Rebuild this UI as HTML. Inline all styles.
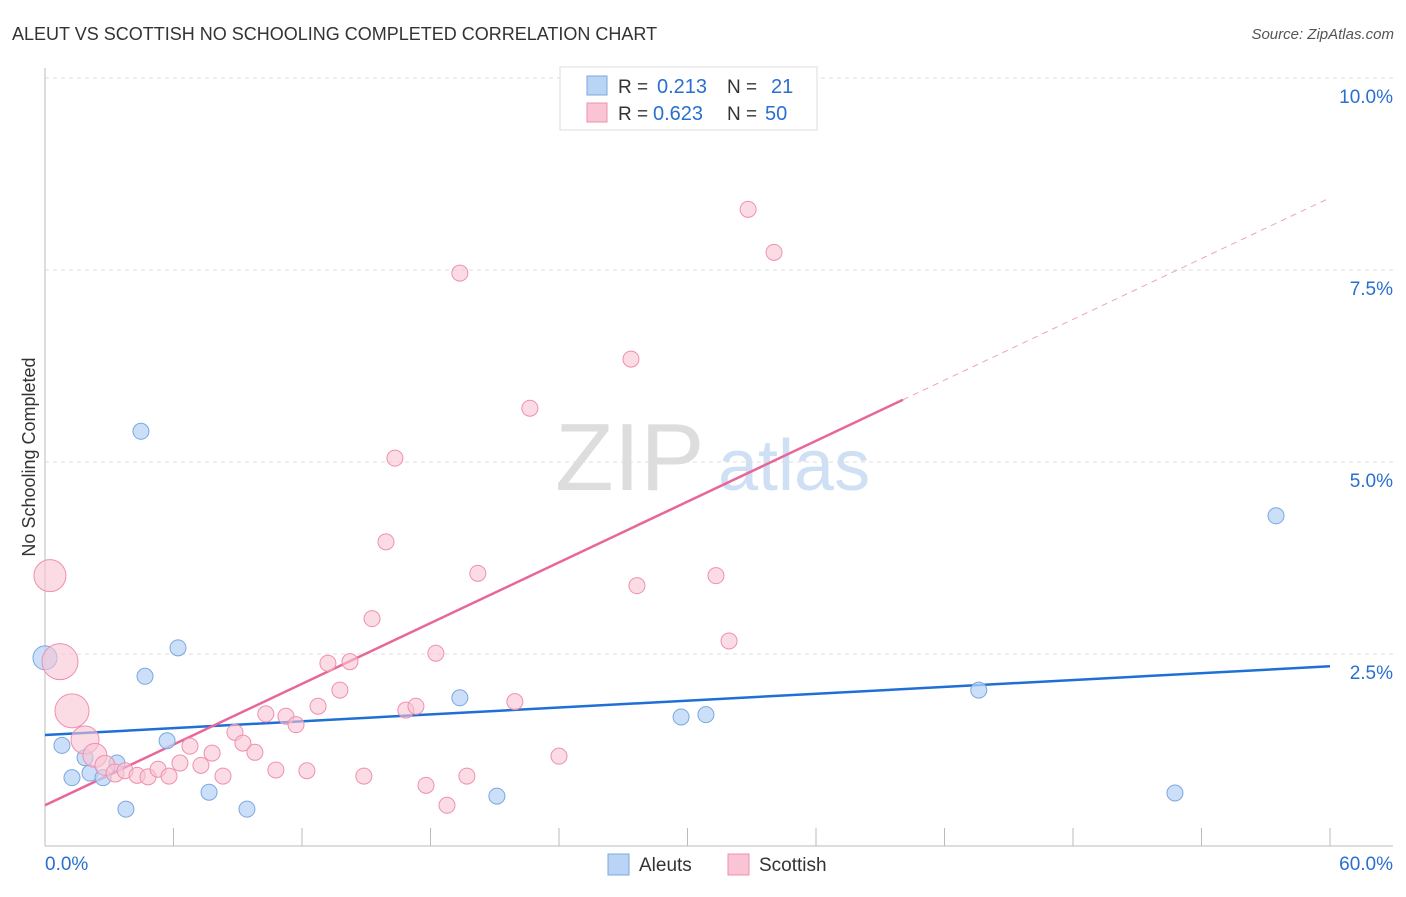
<!DOCTYPE html>
<html><head><meta charset="utf-8"><style>
body{margin:0;background:#fff;font-family:"Liberation Sans",sans-serif;}
svg text{font-family:"Liberation Sans",sans-serif;}
</style></head><body>
<svg width="1406" height="892" xmlns="http://www.w3.org/2000/svg">
<text x="12" y="40" font-size="18" fill="#333">ALEUT VS SCOTTISH NO SCHOOLING COMPLETED CORRELATION CHART</text>
<text x="1394" y="39" font-size="15" fill="#555" font-style="italic" text-anchor="end">Source: ZipAtlas.com</text>
<text x="35" y="457" font-size="18" fill="#333" transform="rotate(-90 35 457)" text-anchor="middle">No Schooling Completed</text>
<g><text x="555" y="490" font-size="96" fill="#ddd" font-family="Liberation Serif">ZIP</text><text x="718" y="490" font-size="72" fill="#cfe0f5">atlas</text></g>
<g id="grid"></g><g id="axes"></g><g id="lines"></g><g id="pts"></g>
<g>
<rect x="560" y="67" width="257" height="63" fill="#fff" stroke="#ddd"/>
<rect x="587" y="76" width="20" height="19" fill="#b9d4f5" stroke="#7aa8e0"/>
<rect x="587" y="103" width="20" height="19" fill="#f9c4d4" stroke="#f08fb0"/>
<text x="618" y="93" font-size="19" fill="#333">R =</text>
<text x="657" y="93" font-size="20" fill="#2a6fd0">0.213</text>
<text x="727" y="93" font-size="19" fill="#333">N =</text>
<text x="771" y="93" font-size="20" fill="#2a6fd0">21</text>
<text x="618" y="120" font-size="19" fill="#333">R =</text>
<text x="653" y="120" font-size="20" fill="#2a6fd0">0.623</text>
<text x="727" y="120" font-size="19" fill="#333">N =</text>
<text x="765" y="120" font-size="20" fill="#2a6fd0">50</text>
</g>
<g>
<rect x="608" y="854" width="21" height="21" fill="#b9d4f5" stroke="#7aa8e0"/>
<text x="639" y="871" font-size="19" fill="#333">Aleuts</text>
<rect x="728" y="854" width="21" height="21" fill="#f9c4d4" stroke="#f08fb0"/>
<text x="759" y="871" font-size="19" fill="#333">Scottish</text>
</g>
</svg>
<script>
const yTicks=[2.5,5,7.5,10];
const yTickLabels=["2.5%","5.0%","7.5%","10.0%"];
const aleutX=[0,4.48,6.21,4.67,0.79,1.26,1.87,2.1,2.71,3.36,3.78,5.7,7.66,9.43,19.37,21.1,29.7,30.86,43.6,57.48,52.76];
const aleutY=[2.45,5.40,2.58,2.21,1.31,0.89,1.15,0.95,0.89,1.08,0.48,1.37,0.70,0.48,1.93,0.65,1.68,1.71,2.03,4.30,0.69];
const scotX=[0.23,0.7,1.26,1.87,2.33,2.8,3.27,3.74,4.3,4.81,5.28,5.79,6.3,6.77,7.28,7.8,8.31,8.87,9.24,9.8,10.31,10.78,11.25,11.72,12.23,12.75,13.21,13.77,14.24,14.89,15.27,15.92,16.34,16.85,17.32,17.79,18.25,18.77,19.37,19.7,20.21,21.94,22.64,24.0,27.36,27.64,31.33,31.94,32.83,34.04];
const scotY=[3.52,2.40,1.76,1.38,1.18,1.05,0.95,0.98,0.92,0.90,1.00,0.91,1.08,1.30,1.05,1.21,0.91,1.48,1.34,1.22,1.72,0.99,1.69,1.58,0.98,1.82,2.38,2.03,2.40,0.91,2.96,3.96,5.05,1.77,1.82,0.79,2.51,0.53,7.46,0.91,3.55,1.88,5.70,1.17,6.34,3.39,3.52,2.67,8.29,7.73];
const scotR=[16,18,17,14,12,10,9,8,8,8,8,8,8,8,8,8,8,8,8,8,8,8,8,8,8,8,8,8,8,8,8,8,8,8,8,8,8,8,8,8,8,8,8,8,8,8,8,8,8,8];
const blueLine=[1.445,2.34];
const pinkLine=[0.53,5.81,40.06,8.44];
const X=v=>45+v*(1285/60), Y=v=>846-v*76.8;
const NS="http://www.w3.org/2000/svg";
function mk(p,t,a){const e=document.createElementNS(NS,t);for(const k in a)e.setAttribute(k,a[k]);document.getElementById(p).appendChild(e);return e;}
yTicks.forEach((t,i)=>{
 const l=mk('grid','line',{x1:45,x2:1393,y1:Y(t),y2:Y(t),stroke:'#ddd','stroke-dasharray':'4 4'});
 
 
 const tx=mk('grid','text',{x:1393,y:Y(t)+25,'font-size':19,fill:'#2a6fd0','text-anchor':'end'});
 tx.textContent=yTickLabels[i];
 
 
});
mk('axes','line',{x1:45,x2:45,y1:68,y2:846,stroke:'#bbb'});
mk('axes','line',{x1:45,x2:1393,y1:846,y2:846,stroke:'#bbb'});
for(let i=0;i<=10;i++){const t=mk('axes','line',{x1:X(i*6),x2:X(i*6),y1:828,y2:846,stroke:'#bbb'});}
let a=mk('axes','text',{x:45,y:870,'font-size':19,fill:'#2a6fd0'});a.textContent='0.0%';


a=mk('axes','text',{x:1393,y:870,'font-size':19,fill:'#2a6fd0','text-anchor':'end'});a.textContent='60.0%';


aleutX.forEach((v,i)=>{const c=mk('pts','circle',{cx:X(v),cy:Y(aleutY[i]),r:i==0?12:8,fill:'#b9d4f5','fill-opacity':0.75,stroke:'#7aa8e0'});
 
 });
scotX.forEach((v,i)=>{const c=mk('pts','circle',{cx:X(v),cy:Y(scotY[i]),r:scotR[i],fill:'#f9c4d4','fill-opacity':0.6,stroke:'#f08fb0'});
 
 });
let ln=mk('lines','line',{x1:X(0),y1:Y(blueLine[0]),x2:X(60),y2:Y(blueLine[1]),stroke:'#1f6fd6','stroke-width':2.5});


ln=mk('lines','line',{x1:X(0),y1:Y(pinkLine[0]),x2:X(pinkLine[2]),y2:Y(pinkLine[1]),stroke:'#e8679a','stroke-width':2.5});


ln=mk('lines','line',{x1:X(pinkLine[2]),y1:Y(pinkLine[1]),x2:X(60),y2:Y(pinkLine[3]),stroke:'#f0a0bc','stroke-width':1,'stroke-dasharray':'6 5'});


</script>
</body></html>
